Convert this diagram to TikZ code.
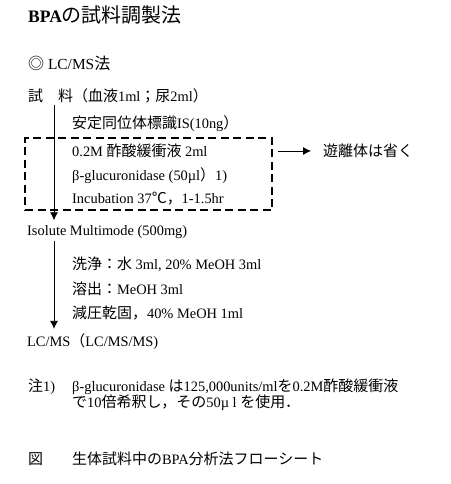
\documentclass[tikz,border=0pt]{standalone}
\usepackage{fontspec}
\setmainfont{Liberation Serif}
\newfontfamily\jp{Noto Sans CJK JP}[Scale=1.04]
\usetikzlibrary{arrows.meta}

\begin{document}
\begin{tikzpicture}[x=1pt,y=-1pt,
    txt/.style={anchor=west,inner sep=0pt,font=\fontsize{14.4}{16}\selectfont},
    dbox/.style={draw,line width=2.6pt,dash pattern=on 8pt off 4.5pt,minimum width=247pt,
                 minimum height=72pt,inner sep=0pt},
    ar/.style={-{Latex[length=8pt,width=8pt]},line width=0.8pt}]
  \useasboundingbox (0,0) rectangle (450,484);
  \node[txt,font=\fontsize{17.5}{20}\selectfont] (title) at (28,15) {\textbf{BPA}{\jp\fontsize{19.2}{20}\selectfont の試料調製法}};
  \node[txt,font=\fontsize{15.4}{17}\selectfont] (method) at (28,63) {{\jp ◎} LC/MS{\jp 法}};
  \node[txt] (sample) at (28,96) {{\jp 試　料（血液}1ml{\jp ；尿}2ml{\jp ）}};
  % steps before the column
  \node[txt] (istd) at (72,124) {{\jp 安定同位体標識}IS(10ng{\jp ）}};
  \node[txt] (buffer) at (72,151) {0.2M {\jp 酢酸緩衝液} 2ml};
  \node[txt] (enzyme) at (72,176) {β-glucuronidase (50µl{\jp ）}1)};
  \node[txt] (incub) at (72,199) {Incubation 37{\jp ℃，}1-1.5hr};
  \node[dbox] (box) at (148.5,174) {};
  \node[txt] (free) at (323,151) {{\jp 遊離体は省く}};
  \node[txt] (iso) at (27,232) {Isolute Multimode (500mg)};
  % column steps
  \node[txt] (wash) at (72,264) {{\jp 洗浄：水} 3ml, 20\% MeOH 3ml};
  \node[txt] (elute) at (72,289) {{\jp 溶出：}MeOH 3ml};
  \node[txt] (dry) at (72,313) {{\jp 減圧乾固，}40\% MeOH 1ml};
  \node[txt] (lcms) at (27,342) {LC/MS{\jp （}LC/MS/MS)};
  % note and caption
  \node[txt] (notelbl) at (28,387) {{\jp 注}1)};
  \node[txt] (noteA) at (72,387) {β-glucuronidase {\jp は}125,000units/ml{\jp を}0.2M{\jp 酢酸緩衝液}};
  \node[txt] (noteB) at (72,403) {{\jp で}10{\jp 倍希釈し，その}50µ l {\jp を使用．}};
  \node[txt] (figlbl) at (28,459) {{\jp 図}};
  \node[txt] (figcap) at (72,459) {{\jp 生体試料中の}BPA{\jp 分析法フローシート}};
  \coordinate (ax) at (54,0);
  \draw[ar,shorten <=2pt,shorten >=5pt] (sample.south -| ax) -- (iso.north -| ax);
  \draw[ar,shorten <=2pt,shorten >=5pt] (iso.south -| ax) -- (lcms.north -| ax);
  \draw[ar,shorten <=5pt,shorten >=12pt] (box.east |- buffer.west) -- (free.west);
\end{tikzpicture}
\end{document}
